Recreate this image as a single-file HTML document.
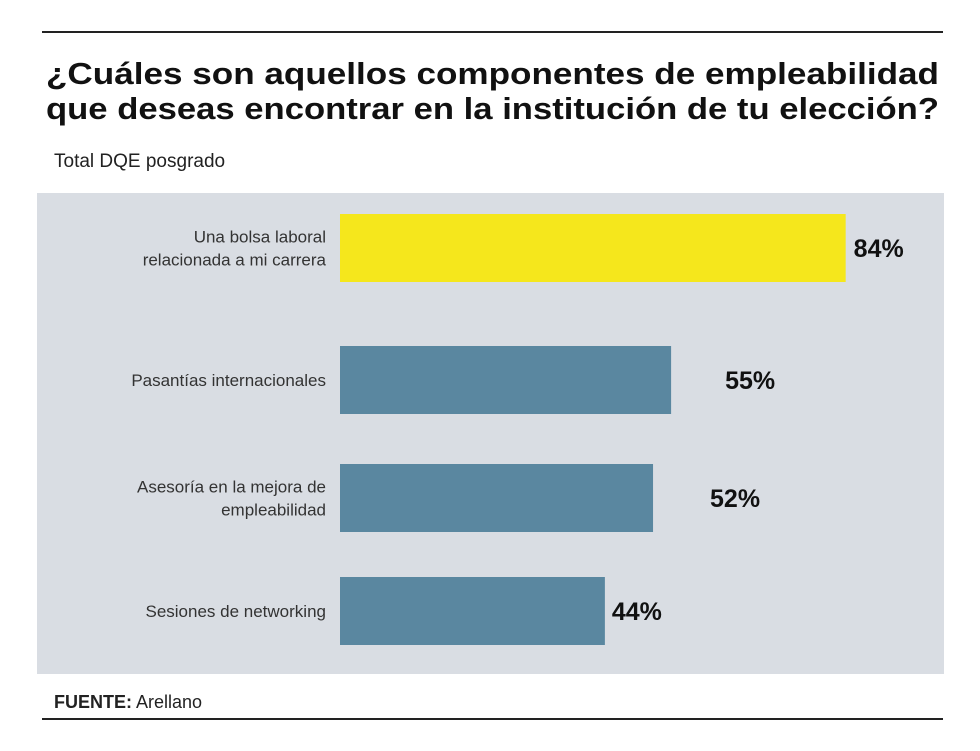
<!DOCTYPE html>
<html><head><meta charset="utf-8"><style>
body{margin:0;background:#fff;width:980px;height:746px;overflow:hidden;font-family:"Liberation Sans",sans-serif;}
</style></head><body>
<svg width="980" height="746" xmlns="http://www.w3.org/2000/svg">
<line x1="42" y1="32" x2="943" y2="32" stroke="#222" stroke-width="2"/>
<text x="46" y="84" font-size="31" font-weight="bold" fill="#111" textLength="893" lengthAdjust="spacingAndGlyphs">¿Cuáles son aquellos componentes de empleabilidad</text>
<text x="46" y="119" font-size="31" font-weight="bold" fill="#111" textLength="893" lengthAdjust="spacingAndGlyphs">que deseas encontrar en la institución de tu elección?</text>
<text x="54" y="167" font-size="19" fill="#222">Total DQE posgrado</text>
<rect x="37" y="193" width="907" height="481" fill="#d9dde3"/>
<g id="bars"></g>
<text x="54" y="708" font-size="18" fill="#222"><tspan font-weight="bold">FUENTE:</tspan> Arellano</text>
<line x1="42" y1="719" x2="943" y2="719" stroke="#222" stroke-width="2"/>
</svg>
<script>
const categories=[["Una bolsa laboral","relacionada a mi carrera"],["Pasantías internacionales"],["Asesoría en la mejora de","empleabilidad"],["Sesiones de networking"]];
const values=[84,55,52,44];
const valueLabels=["84%","55%","52%","44%"];
const x0=340, pxPer=6.02;
const xScale=v=>x0+v*pxPer;
const barTop=[214,346,464,577], barH=68;
const labelGap=[8,54,57,7];
const colors=["#f5e71c","#5a87a0","#5a87a0","#5a87a0"];
const g=document.getElementById('bars');
const NS="http://www.w3.org/2000/svg";
values.forEach((v,i)=>{
  const r=document.createElementNS(NS,'rect');
  
  
  r.setAttribute('x',x0);r.setAttribute('y',barTop[i]);
  r.setAttribute('width',xScale(v)-x0);r.setAttribute('height',barH);
  r.setAttribute('fill',colors[i]);g.appendChild(r);
  const t=document.createElementNS(NS,'text');
  
  
  t.setAttribute('x',xScale(v)+labelGap[i]);t.setAttribute('y',barTop[i]+barH/2+9);
  t.setAttribute('font-size','25');t.setAttribute('font-weight','bold');t.setAttribute('fill','#111');
  t.textContent=valueLabels[i];g.appendChild(t);
  const lines=categories[i];
  const c=document.createElementNS(NS,'text');
  
  
  c.setAttribute('text-anchor','end');c.setAttribute('font-size','17');c.setAttribute('fill','#333');
  const mid=barTop[i]+barH/2;
  lines.forEach((ln,j)=>{
    const s=document.createElementNS(NS,'tspan');
    s.setAttribute('x',326);
    s.setAttribute('y',mid+6+(j-(lines.length-1)/2)*23);
    s.textContent=ln;c.appendChild(s);
  });
  g.appendChild(c);
});
</script>
</body></html>
